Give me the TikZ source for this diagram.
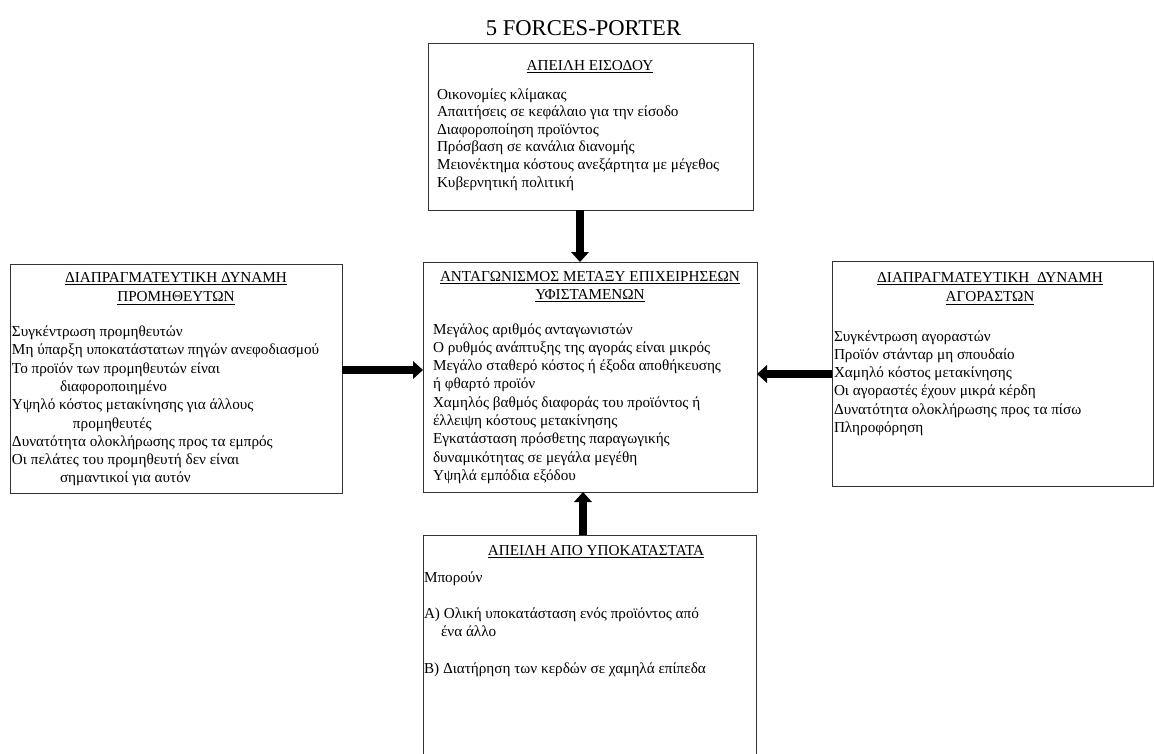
\documentclass[tikz,border=0pt]{standalone}
\usepackage{fontspec}
\setmainfont{Liberation Serif}
\usetikzlibrary{arrows.meta}
\newcommand\hul[1]{\setbox0\hbox{#1}\rlap{\rule[-2.8pt]{\wd0}{0.7pt}}\box0}
\begin{document}
\begin{tikzpicture}[x=1pt,y=-1pt,
  box/.style={draw=black!80,line width=0.8pt,inner sep=0pt,outer sep=0pt,anchor=north west},
  body/.style={font=\fontsize{15.2pt}{18.3pt}\selectfont,inner sep=0pt,outer sep=0pt,anchor=north west,align=left},
  head/.style={font=\fontsize{15.2pt}{18.3pt}\selectfont,inner sep=0pt,outer sep=0pt,anchor=north,align=center},
  force/.style={line width=8pt,-{Triangle[length=10pt,width=18pt,line width=0pt]}}]
\useasboundingbox (0,0) rectangle (1154,753);
% title
\node[font=\fontsize{22.6pt}{27pt}\selectfont,anchor=base,inner sep=0pt] (title) at (583.5,35) {5 FORCES-PORTER};
% boxes
\node[box,minimum width=325pt,minimum height=167pt] (topb) at (428,43) {};
\node[box,minimum width=334pt,minimum height=230pt] (ctr) at (423,262) {};
\node[box,minimum width=332pt,minimum height=229pt] (lbox) at (10,264) {};
\node[box,minimum width=321pt,minimum height=225pt] (rbox) at (832,261) {};
\node[box,minimum width=333pt,minimum height=225pt] (bbox) at (423,535) {};
% top box text
\node[head] (topH) at (590,57.2) {\strut\hul{ΑΠΕΙΛΗ ΕΙΣΟΔΟΥ}};
\node[body,font=\fontsize{15.2pt}{17.6pt}\selectfont] (topT) at (437,86.7) {\strut Οικονομίες κλίμακας\\
Απαιτήσεις σε κεφάλαιο για την είσοδο\\
Διαφοροποίηση προϊόντος\\
Πρόσβαση σε κανάλια διανομής\\
Μειονέκτημα κόστους ανεξάρτητα με μέγεθος\\
Κυβερνητική πολιτική};
% center box text
\node[head] (ctrH) at (590,268.2) {\strut\hul{ΑΝΤΑΓΩΝΙΣΜΟΣ ΜΕΤΑΞΥ ΕΠΙΧΕΙΡΗΣΕΩΝ}\\\hul{ΥΦΙΣΤΑΜΕΝΩΝ}};
\node[body] (ctrT) at (433,321.2) {\strut Μεγάλος αριθμός ανταγωνιστών\\
Ο ρυθμός ανάπτυξης της αγοράς είναι μικρός\\
Μεγάλο σταθερό κόστος ή έξοδα αποθήκευσης\\
ή φθαρτό προϊόν\\
Χαμηλός βαθμός διαφοράς του προϊόντος ή\\
έλλειψη κόστους μετακίνησης\\
Εγκατάσταση πρόσθετης παραγωγικής\\
δυναμικότητας σε μεγάλα μεγέθη\\
Υψηλά εμπόδια εξόδου};
% left box text
\node[head] (lH) at (176,269.2) {\strut\hul{ΔΙΑΠΡΑΓΜΑΤΕΥΤΙΚΗ ΔΥΝΑΜΗ}\\[1.2pt]\hul{ΠΡΟΜΗΘΕΥΤΩΝ}};
\node[body] (lT) at (12,323.7) {\strut Συγκέντρωση προμηθευτών\\
Μη ύπαρξη υποκατάστατων πηγών ανεφοδιασμού\\
Το προϊόν των προμηθευτών είναι\\
\hspace*{48pt}διαφοροποιημένο\\
Υψηλό κόστος μετακίνησης για άλλους\\
\hspace*{61pt}προμηθευτές\\
Δυνατότητα ολοκλήρωσης προς τα εμπρός\\
Οι πελάτες του προμηθευτή δεν είναι\\
\hspace*{48pt}σημαντικοί για αυτόν};
% right box text
\node[head] (rH) at (990,269.2) {\strut\hul{ΔΙΑΠΡΑΓΜΑΤΕΥΤΙΚΗ\ \ ΔΥΝΑΜΗ}\\[1.2pt]\hul{ΑΓΟΡΑΣΤΩΝ}};
\node[body] (rT) at (834,328.2) {\strut Συγκέντρωση αγοραστών\\
Προϊόν στάνταρ μη σπουδαίο\\
Χαμηλό κόστος μετακίνησης\\
Οι αγοραστές έχουν μικρά κέρδη\\
Δυνατότητα ολοκλήρωσης προς τα πίσω\\
Πληροφόρηση};
% bottom box text
\node[head] (bH) at (596,542.2) {\strut\hul{ΑΠΕΙΛΗ ΑΠΟ ΥΠΟΚΑΤΑΣΤΑΤΑ}};
\node[body] (bT) at (424,569.2) {\strut Μπορούν\\[18.3pt]
Α) Ολική υποκατάσταση ενός προϊόντος από\\
\hspace*{17pt}ένα άλλο\\[18.3pt]
Β) Διατήρηση των κερδών σε χαμηλά επίπεδα};
% arrows
\draw[force] ([xshift=-10.5pt]topb.south) -- ([xshift=-10pt]ctr.north);
\draw[force] ([yshift=8.5pt]lbox.east) -- ([yshift=7pt]ctr.west);
\draw[force] ([yshift=-0.5pt]rbox.west) -- ([yshift=3pt]ctr.east);
\draw[force] ([xshift=-6.5pt]bbox.north) -- ([xshift=-7pt]ctr.south);
\end{tikzpicture}
\end{document}
